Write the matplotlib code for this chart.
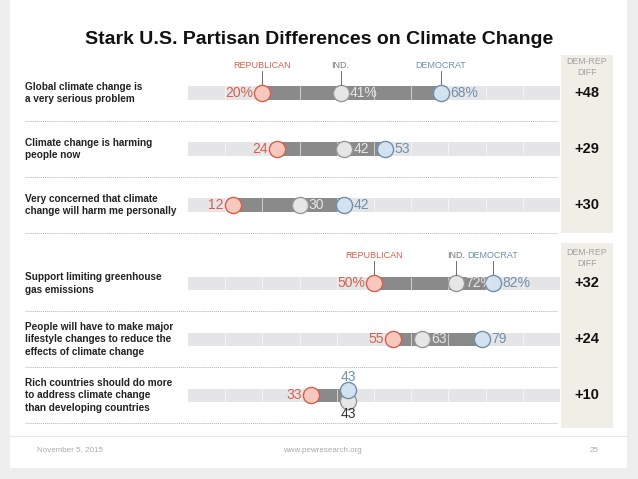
import numpy as np
import matplotlib.pyplot as plt
from matplotlib.patches import Rectangle

plt.rcParams['font.family'] = ['Liberation Sans', 'DejaVu Sans']

# Survey data (percent)
questions = [
    "Global climate change is\na very serious problem",
    "Climate change is harming\npeople now",
    "Very concerned that climate\nchange will harm me personally",
    "Support limiting greenhouse\ngas emissions",
    "People will have to make major\nlifestyle changes to reduce the\neffects of climate change",
    "Rich countries should do more\nto address climate change\nthan developing countries",
]
rep = [20, 24, 12, 50, 55, 33]
ind = [41, 42, 30, 72, 63, 43]
dem = [68, 53, 42, 82, 79, 43]
diff = ["+48", "+29", "+30", "+32", "+24", "+10"]
pct_rows = [0, 3]
rows = [0, 1, 2, 3.4, 4.4, 5.4]

RED = '#d4604b'
BLUE = '#6f8fad'
GRAY = '#8a8a8a'

W, H = 638, 479
fig = plt.figure(figsize=(W / 100, H / 100), dpi=100, facecolor='#eeeeee')

# slide card
fig.patches.append(Rectangle((10 / W, 1 - 468 / H), 617 / W, 468 / H,
                             transform=fig.transFigure, facecolor='white',
                             edgecolor='none', zorder=-5))

# main axes: x in percent, y in row units
top_px, bot_px = 50, 440
row_px = 56
ax = fig.add_axes([188 / W, 1 - bot_px / H, 372 / W, (bot_px - top_px) / H])
ax.set_xlim(0, 100)
ax.set_ylim((bot_px - 93) / row_px, (top_px - 93) / row_px)
ax.axis('off')
ax.patch.set_alpha(0)

# diff column boxes
for y0, y1 in [(-0.68, 2.5), (2.68, 5.98)]:
    ax.add_patch(Rectangle((100.2, y0), 14, y1 - y0, facecolor='#efeee7',
                           edgecolor='none', clip_on=False, zorder=0))

bar_h = 0.24
for i, y in enumerate(rows):
    # track
    ax.barh(y, 100, left=0, height=bar_h, color='#e5e5e7', zorder=1)
    lo, hi = min(rep[i], ind[i], dem[i]), max(rep[i], ind[i], dem[i])
    ax.barh(y, hi - lo, left=lo, height=bar_h, color=GRAY, zorder=2)
    ax.vlines(np.arange(10, 100, 10), y - bar_h / 2, y + bar_h / 2,
              color='white', lw=0.7, alpha=0.6, zorder=3)

    suf = '%' if i in pct_rows else ''
    dy_dem, dy_ind = (-0.1, 0.1) if dem[i] == ind[i] else (0, 0)
    ax.scatter([rep[i]], [y], s=135, color='#f7c8bd', edgecolor=RED, lw=1, zorder=5)
    ax.scatter([ind[i]], [y + dy_ind], s=135, color='#e6e6e6', edgecolor='#999999', lw=1, zorder=4)
    ax.scatter([dem[i]], [y + dy_dem], s=135, color='#d2e2ee', edgecolor=BLUE, lw=1, zorder=5)

    ax.text(rep[i] - 2.4, y, f"{rep[i]}{suf}", color=RED, fontsize=10,
            ha='right', va='center', zorder=6)
    if dem[i] == ind[i]:
        ax.text(dem[i], y - 0.32, f"{dem[i]}", color=BLUE, fontsize=10,
                ha='center', va='center', zorder=6)
        ax.text(ind[i], y + 0.33, f"{ind[i]}", color='#333333', fontsize=10,
                ha='center', va='center', zorder=6)
    else:
        ax.text(ind[i] + 2.4, y, f"{ind[i]}{suf}", color='#e6e6e6', fontsize=10,
                ha='left', va='center', zorder=6)
        ax.text(dem[i] + 2.4, y, f"{dem[i]}{suf}", color=BLUE, fontsize=10,
                ha='left', va='center', zorder=6)

    # question label
    ax.text(-43.8, y, questions[i], fontsize=7.2, fontweight='bold',
            color='#222222', ha='left', va='center', linespacing=1.35)
    # diff value
    ax.text(107.2, y, diff[i], fontsize=10.5, fontweight='bold',
            color='#111111', ha='center', va='center')
    # dotted separator
    ax.plot([-43.8, 99.5], [y + 0.5, y + 0.5], color='#b5b5b5', lw=0.7,
            ls=(0, (1, 1)), clip_on=False, zorder=1)

# party headers above first row of each section
for sec in [0, 3]:
    y = rows[sec]
    for val, name, col in [(rep[sec], 'REPUBLICAN', RED), (ind[sec], 'IND.', '#777777'),
                           (dem[sec], 'DEMOCRAT', BLUE)]:
        ax.text(val, y - 0.5, name, fontsize=6.5, color=col, ha='center', va='center')
        ax.plot([val, val], [y - 0.4, y - 0.15], color='#555555', lw=0.6, zorder=4)
    ax.text(107.2, y - 0.46, "DEM-REP\nDIFF", fontsize=6.3, color='#a0a0a0',
            ha='center', va='center', linespacing=1.3)

# title
fig.text(319 / W, 1 - 40 / H, "Stark U.S. Partisan Differences on Climate Change",
         fontsize=14, fontweight='bold', ha='center', va='center', color='#111111')

# footer
fig.add_artist(plt.Line2D([10 / W, 627 / W], [1 - 436 / H, 1 - 436 / H],
                          transform=fig.transFigure, color='#e8e8e8', lw=0.8))
fig.text(37 / W, 1 - 450 / H, "November 5, 2015", fontsize=5.8, color='#aaaaaa', va='center')
fig.text(322 / W, 1 - 450 / H, "www.pewresearch.org", fontsize=5.8, color='#aaaaaa',
         va='center', ha='center')
fig.text(594 / W, 1 - 450 / H, "25", fontsize=5.8, color='#aaaaaa', va='center', ha='center')

fig.savefig('out.png', dpi=100, facecolor=fig.get_facecolor())
